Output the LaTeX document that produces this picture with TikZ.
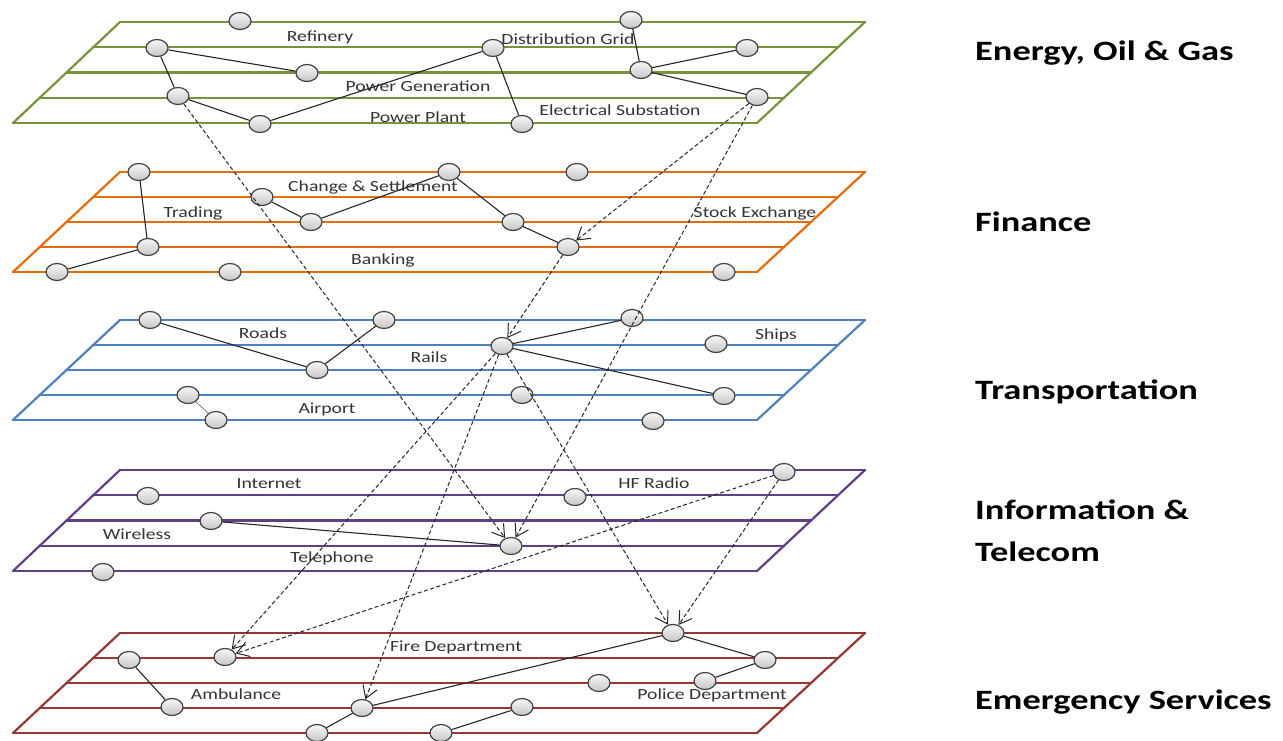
\documentclass[tikz,border=0pt]{standalone}
\usepackage{fontspec}
\setmainfont{Carlito}
\newfontfamily\layerfont[FakeStretch=1.27]{Carlito}
\newfontfamily\sectorfont[FakeStretch=1.3]{Carlito}
\usetikzlibrary{shapes.geometric,arrows.meta}

\definecolor{energyc}{HTML}{77933C}
\definecolor{financec}{HTML}{E46C0A}
\definecolor{transc}{HTML}{4F81BD}
\definecolor{infoc}{HTML}{5F3F86}
\definecolor{emergc}{HTML}{953735}

% one sector plane: five parallel rails between a slanted left and right side
\newcommand{\sectorplane}[3]{%
  \foreach \i in {0,...,4}{%
    \pgfmathsetmacro{\yy}{#2+\i*(#3-#2)/4}%
    \pgfmathsetmacro{\xl}{120-\i*26.75}%
    \pgfmathsetmacro{\xr}{865-\i*27}%
    \draw[rail=#1] (\xl,\yy) -- (\xr,\yy);
  }
  \draw[rail=#1] (120,#2) -- (13,#3);
  \draw[rail=#1] (865,#2) -- (757,#3);
}

\tikzset{
  rail/.style={draw=#1, line width=2.2pt, line cap=round},
  hub/.style={ellipse, minimum width=22pt, minimum height=17pt, inner sep=0pt,
              draw=black!75, line width=1.2pt, top color=gray!6, bottom color=gray!45},
  link/.style={draw=black!85, line width=1.1pt},
  thinlink/.style={draw=black!55, line width=0.7pt},
  dep/.style={draw=black!85, line width=1pt, dash pattern=on 4pt off 2.5pt,
              -{Straight Barb[length=12pt,width=15pt,line width=1pt]}},
  lbl/.style={font=\layerfont\fontsize{15.5}{18}\selectfont, text=black!80, inner sep=0pt},
  sector/.style={font=\sectorfont\bfseries\fontsize{28}{32}\selectfont, anchor=base west, inner sep=0pt}
}

\begin{document}
\begin{tikzpicture}[x=1pt,y=-1pt]
\useasboundingbox (0,0) rectangle (1283,741);
\fill[white] (0,0) rectangle (1283,741);

% sector planes
\sectorplane{energyc}{22}{123}
\sectorplane{financec}{172}{272}
\sectorplane{transc}{320}{420}
\sectorplane{infoc}{470}{571}
\sectorplane{emergc}{633}{733}

% plane labels
\node[lbl] (lRef)  at (320,37)  {Refinery};
\node[lbl] (lPG)   at (418,86)  {Power Generation};
\node[lbl] (lPP)   at (418,117) {Power Plant};
\node[lbl] (lDG)   at (568,39)  {Distribution Grid};
\node[lbl] (lES)   at (620,110) {Electrical Substation};
\node[lbl] (lTr)   at (193,213) {Trading};
\node[lbl] (lCS)   at (373,187) {Change \& Settlement};
\node[lbl] (lBk)   at (383,260) {Banking};
\node[lbl] (lSE)   at (755,213) {Stock Exchange};
\node[lbl] (lRo)   at (263,333) {Roads};
\node[lbl] (lRa)   at (429,357) {Rails};
\node[lbl] (lAi)   at (327,409) {Airport};
\node[lbl] (lSh)   at (776,335) {Ships};
\node[lbl] (lIn)   at (269,484) {Internet};
\node[lbl] (lWi)   at (137,534) {Wireless};
\node[lbl] (lTe)   at (332,558) {Telephone};
\node[lbl] (lHF)   at (654,483) {HF Radio};
\node[lbl] (lFD)   at (456,647) {Fire Department};
\node[lbl] (lAm)   at (236,694) {Ambulance};
\node[lbl] (lPD)   at (712,695) {Police Department};

% energy hubs
\node[hub] (E1)  at (240,21)  {};
\node[hub] (E2)  at (157,48)  {};
\node[hub] (E3)  at (307,73)  {};
\node[hub] (E4)  at (178,96)  {};
\node[hub] (E5)  at (260,124) {};
\node[hub] (E6)  at (493,48)  {};
\node[hub] (E7)  at (631,20)  {};
\node[hub] (E8)  at (641,70)  {};
\node[hub] (E9)  at (747,48)  {};
\node[hub] (E10) at (757,97)  {};
\node[hub] (E11) at (522,124) {};

% finance hubs
\node[hub] (F1)  at (139,172) {};
\node[hub] (F2)  at (148,247) {};
\node[hub] (F3)  at (57,272)  {};
\node[hub] (F4)  at (230,272) {};
\node[hub] (F5)  at (262,197) {};
\node[hub] (F6)  at (311,222) {};
\node[hub] (F7)  at (449,172) {};
\node[hub] (F8)  at (577,172) {};
\node[hub] (F9)  at (513,222) {};
\node[hub] (F10) at (568,247) {};
\node[hub] (F11) at (724,272) {};

% transportation hubs
\node[hub] (T1)  at (150,320) {};
\node[hub] (T2)  at (384,320) {};
\node[hub] (T3)  at (317,370) {};
\node[hub] (T4)  at (188,395) {};
\node[hub] (T5)  at (216,420) {};
\node[hub] (TR)  at (502,346) {};
\node[hub] (T6)  at (632,318) {};
\node[hub] (T7)  at (716,344) {};
\node[hub] (T8)  at (522,395) {};
\node[hub] (T9)  at (724,396) {};
\node[hub] (T10) at (653,421) {};

% information & telecom hubs
\node[hub] (I1)  at (148,496) {};
\node[hub] (I2)  at (211,521) {};
\node[hub] (I3)  at (103,572) {};
\node[hub] (I4)  at (511,546) {};
\node[hub] (I5)  at (575,497) {};
\node[hub] (I6)  at (784,472) {};

% emergency service hubs
\node[hub] (M1)  at (129,660) {};
\node[hub] (M2)  at (172,707) {};
\node[hub] (M3)  at (225,657) {};
\node[hub] (M4)  at (362,708) {};
\node[hub] (M5)  at (317,733) {};
\node[hub] (M6)  at (441,733) {};
\node[hub] (M7)  at (522,707) {};
\node[hub] (M8)  at (673,633) {};
\node[hub] (M9)  at (765,660) {};
\node[hub] (M10) at (705,681) {};
\node[hub] (M11) at (599,683) {};

% links inside each sector
\draw[link] (E2) -- (E3);
\draw[link] (E2) -- (E4);
\draw[link] (E4) -- (E5);
\draw[link] (E5) -- (E6);
\draw[link] (E6) -- (E11);
\draw[link] (E7) -- (E8);
\draw[link] (E8) -- (E9);
\draw[link] (E8) -- (E10);

\draw[link] (F1) -- (F2);
\draw[link] (F2) -- (F3);
\draw[link] (F5) -- (F6);
\draw[link] (F6) -- (F7);
\draw[link] (F7) -- (F9);
\draw[link] (F9) -- (F10);

\draw[link] (T1) -- (T3);
\draw[link] (T3) -- (T2);
\draw[thinlink] (T4) -- (T5);
\draw[link] (TR) -- (T6);
\draw[link] (TR) -- (T9);

\draw[link] (I2) -- (I4);

\draw[link] (M1) -- (M2);
\draw[link] (M4) -- (M8);
\draw[link] (M4) -- (M5);
\draw[link] (M6) -- (M7);
\draw[link] (M8) -- (M9);
\draw[link] (M9) -- (M10);

% dependencies between sectors
\draw[dep] (E4)  -- (I4);
\draw[dep] (E10) -- (F10);
\draw[dep] (E10) -- (I4);
\draw[dep] (F10) -- (TR);
\draw[dep] (TR)  -- (M3);
\draw[dep] (TR)  -- (M4);
\draw[dep] (TR)  -- (M8);
\draw[dep] (I6)  -- (M3);
\draw[dep] (I6)  -- (M8);

% sector names
\node[sector] (sEn) at (975,61)  {Energy, Oil \& Gas};
\node[sector] (sFi) at (975,231) {Finance};
\node[sector] (sTr) at (975,399) {Transportation};
\node[sector] (sIn) at (975,519) {Information \&};
\node[sector] (sTe) at (975,561) {Telecom};
\node[sector] (sEm) at (975,709) {Emergency Services};
\end{tikzpicture}
\end{document}
